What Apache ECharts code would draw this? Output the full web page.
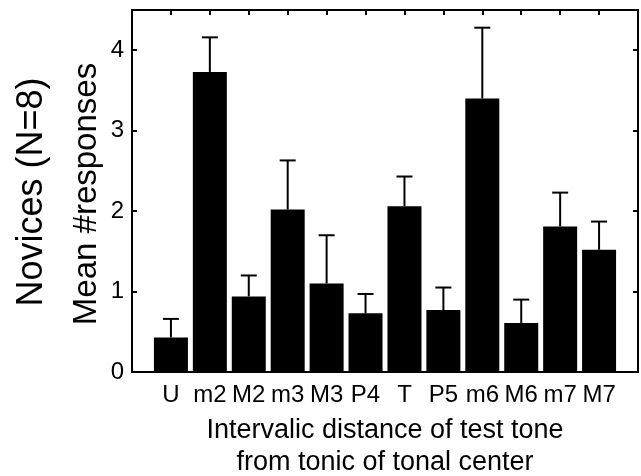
<!DOCTYPE html>
<html><head><meta charset="utf-8">
<script src="https://cdn.jsdelivr.net/npm/echarts@6/dist/echarts.min.js"></script>
<style>html,body{margin:0;padding:0;background:#fff}#c{width:641px;height:476px}</style>
</head><body><div id="c"></div>
<script>
const categories = ['U','m2','M2','m3','M3','P4','T','P5','m6','M6','m7','M7'];
const means = [0.43,3.73,0.94,2.02,1.10,0.73,2.06,0.77,3.40,0.61,1.81,1.52];
const upper = [0.66,4.16,1.20,2.63,1.70,0.97,2.43,1.05,4.28,0.90,2.23,1.87];
const yTicks = [0,1,2,3,4];

const FONT = 'Liberation Sans, Arial, sans-serif';
const chart = echarts.init(document.getElementById('c'), null, {renderer:'canvas'});
const axisLine = {show:true, onZero:false, lineStyle:{color:'#000', width:2}};
const tick = {show:true, inside:true, length:5, lineStyle:{color:'#000', width:2}};
const xBase = {type:'value', min:0, max:categories.length+1, interval:1, splitLine:{show:false}, axisLine, axisTick:tick};
const yBase = {type:'value', min:0, max:4.5, interval:1, splitLine:{show:false}, axisLine, axisTick:tick};

chart.setOption({
  animation:false,
  backgroundColor:'#fff',
  grid:{left:132, right:3, top:10, bottom:104, containLabel:false},
  xAxis:[
    Object.assign({}, xBase, {position:'bottom', axisLabel:{color:'#000', fontFamily:FONT, fontSize:24, margin:11,
      formatter:v => categories[v-1] || ''}}),
    Object.assign({}, xBase, {position:'top', axisLabel:{show:false}})
  ],
  yAxis:[
    Object.assign({}, yBase, {position:'left', axisLabel:{color:'#000', fontFamily:FONT, fontSize:24, margin:8,
      formatter:v => yTicks.includes(v) ? String(v) : ''}}),
    Object.assign({}, yBase, {position:'right', axisLabel:{show:false}})
  ],
  series:[
    {type:'bar', xAxisIndex:0, yAxisIndex:0, barWidth:34, itemStyle:{color:'#000'},
     data:categories.map((c,i)=>[i+1, means[i]]), z:3},
    {type:'custom', xAxisIndex:0, yAxisIndex:0, z:4,
     data:categories.map((c,i)=>[i+1, means[i], upper[i]]),
     renderItem:(params, api) => {
       const x = api.value(0), m = api.value(1), u = api.value(2);
       const p0 = api.coord([x, m]), p1 = api.coord([x, u]);
       const hw = 8;
       return {type:'group', children:[
         {type:'line', shape:{x1:p0[0], y1:p0[1], x2:p1[0], y2:p1[1]}, style:{stroke:'#000', lineWidth:2}},
         {type:'line', shape:{x1:p1[0]-hw, y1:p1[1], x2:p1[0]+hw, y2:p1[1]}, style:{stroke:'#000', lineWidth:2}}
       ]};
     }}
  ],
  graphic:[
    {type:'text', x:87, y:194, rotation:Math.PI/2, style:{text:'Mean #responses', font:'33px '+FONT, fill:'#000', textAlign:'center', textVerticalAlign:'middle'}},
    {type:'text', x:32, y:192, rotation:Math.PI/2, style:{text:'Novices (N=8)', font:'36px '+FONT, fill:'#000', textAlign:'center', textVerticalAlign:'middle'}},
    {type:'text', x:385, y:431, style:{text:'Intervalic distance of test tone', font:'27px '+FONT, fill:'#000', textAlign:'center', textVerticalAlign:'middle'}},
    {type:'text', x:385, y:463, style:{text:'from tonic of tonal center', font:'27px '+FONT, fill:'#000', textAlign:'center', textVerticalAlign:'middle'}}
  ]
});
</script></body></html>
